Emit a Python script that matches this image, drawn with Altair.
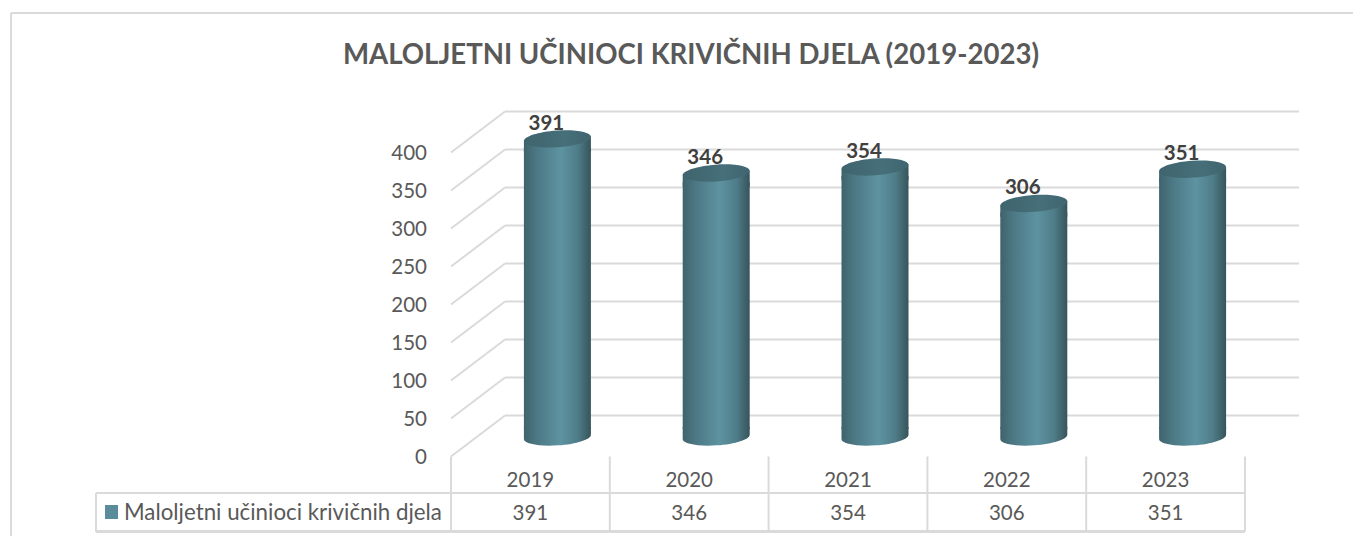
import altair as alt
import pandas as pd

years = ["2019", "2020", "2021", "2022", "2023"]
values = [391, 346, 354, 306, 351]
ticks = [0, 50, 100, 150, 200, 250, 300, 350, 400]
title_text = "MALOLJETNI UČINIOCI KRIVIČNIH DJELA (2019-2023)"
series_name = "Maloljetni učinioci krivičnih djela"

W, H = 1345, 528
FONT = "Lato"
GRID = "#DADADA"
TXT = "#595959"
XS = alt.Scale(domain=[-2.7897, 5.6801], nice=False, zero=False)
YS = alt.Scale(domain=[-104.6, 590.1], nice=False, zero=False)
X = lambda f: alt.X(f, type="quantitative", scale=XS, axis=None)
Y = lambda f: alt.Y(f, type="quantitative", scale=YS, axis=None)
HW = 33.5 / 158.8
DX, DY = 54, -41
NUM = 20.5

bars = pd.DataFrame({
    "year": years, "value": values,
    "pos": [i + 0.5 for i in range(len(years))],
    "x0": [i + 0.5 - HW for i in range(len(years))],
    "x1": [i + 0.5 + HW for i in range(len(years))],
    "base": [0] * len(years),
})
grid = pd.DataFrame({"v": ticks, "a": [0] * len(ticks), "b": [5] * len(ticks)})
cols = pd.DataFrame({"c": list(range(len(years) + 1))})

body_grad = alt.LinearGradient(gradient="linear", x1=0, y1=0, x2=1, y2=0, stops=[
    alt.GradientStop(offset=0, color="#3F636C"),
    alt.GradientStop(offset=0.18, color="#4B7783"),
    alt.GradientStop(offset=0.55, color="#5E93A1"),
    alt.GradientStop(offset=0.8, color="#4F7D89"),
    alt.GradientStop(offset=1, color="#37545B"),
])
top_grad = alt.LinearGradient(gradient="linear", x1=0, y1=0, x2=1, y2=0, stops=[
    alt.GradientStop(offset=0, color="#3F646E"),
    alt.GradientStop(offset=0.6, color="#466F79"),
    alt.GradientStop(offset=1, color="#406670"),
])
ELL = "M-1,0.07 A1,0.25 -4 1,1 1,-0.07 A1,0.25 -4 1,1 -1,0.07 Z"
BASE = "M-1,-0.3 L-1,0.07 A1,0.25 -4 0,0 1,-0.07 L1,-0.3 Z"
NECK = "M-1,0.07 L1,-0.07 L1,0.4 L-1,0.4 Z"
SIZE = 67 ** 2

back = alt.Chart(grid).mark_rule(color=GRID, strokeWidth=2, xOffset=DX, x2Offset=DX, yOffset=DY, y2Offset=DY).encode(
    x=X("a"), x2="b", y=Y("v"))
side = alt.Chart(grid).mark_rule(color=GRID, strokeWidth=2, x2Offset=DX, y2Offset=DY).encode(
    x=X("a"), x2="a", y=Y("v"), y2="v")
ylab = alt.Chart(grid).mark_text(font=FONT, fontSize=NUM, color=TXT, align="right", baseline="middle", xOffset=-24, yOffset=2).encode(
    x=X("a"), y=Y("v"), text="v:Q")

OX, OY = 27, -19.5
bottom = alt.Chart(bars).mark_point(filled=True, opacity=1, fill=body_grad, strokeWidth=0, shape=BASE, size=SIZE, xOffset=OX, yOffset=OY).encode(
    x=X("pos"), y=Y("base"))
body = alt.Chart(bars).mark_rect(fill=body_grad, xOffset=OX, x2Offset=OX, yOffset=OY + 8, y2Offset=OY - 8).encode(
    x=X("x0"), x2="x1", y=Y("value"), y2="base")
neck = alt.Chart(bars).mark_point(filled=True, opacity=1, fill=body_grad, strokeWidth=0, shape=NECK, size=SIZE, xOffset=OX, yOffset=OY - 1).encode(
    x=X("pos"), y=Y("value"))
top = alt.Chart(bars).mark_point(filled=True, opacity=1, fill=top_grad, strokeWidth=0, shape=ELL, size=SIZE, xOffset=OX, yOffset=OY - 1).encode(
    x=X("pos"), y=Y("value"))
vlab = alt.Chart(bars).mark_text(font=FONT, fontSize=NUM, fontWeight="bold", color="#404040", xOffset=16, yOffset=OY - 16, baseline="middle").encode(
    x=X("pos"), y=Y("value"), text="value:Q")

cat = alt.Chart(bars).mark_text(font=FONT, fontSize=NUM, color=TXT, baseline="middle").encode(
    x=X("pos"), y=alt.value(472.5), text="year:N")
row = alt.Chart(bars).mark_text(font=FONT, fontSize=NUM, color=TXT, baseline="middle").encode(
    x=X("pos"), y=alt.value(505.5), text="value:Q")
vlines = alt.Chart(cols).mark_rule(color=GRID, strokeWidth=2).encode(
    x=X("c"), y=alt.value(448.5), y2=alt.value(523.5))
hline1 = alt.Chart(cols).mark_rule(color=GRID, strokeWidth=2).encode(
    x=alt.value(88), x2=alt.value(1237), y=alt.value(485))
hline2 = alt.Chart(cols).mark_rule(color=GRID, strokeWidth=2).encode(
    x=alt.value(88), x2=alt.value(1237), y=alt.value(523.5))
vleft = alt.Chart(cols).mark_rule(color=GRID, strokeWidth=2).encode(
    x=alt.value(88), y=alt.value(485), y2=alt.value(523.5))
key = alt.Chart(cols).mark_rect(color="#5B8C9A").encode(
    x=alt.value(97), x2=alt.value(110), y=alt.value(497), y2=alt.value(511))
sname = alt.Chart(pd.DataFrame({"t": [series_name]})).mark_text(font=FONT, fontSize=22.3, color=TXT, align="left", baseline="middle").encode(
    x=alt.value(116), y=alt.value(505), text="t:N")
title = alt.Chart(pd.DataFrame({"t": [title_text]})).mark_text(font=FONT, fontSize=27.6, fontWeight="bold", color=TXT, baseline="middle").encode(
    x=alt.value(683), y=alt.value(48), text="t:N")
frame_top = alt.Chart(cols).mark_rule(color=GRID, strokeWidth=2).encode(
    x=alt.value(3), x2=alt.value(1345), y=alt.value(5))
frame_left = alt.Chart(cols).mark_rule(color=GRID, strokeWidth=2).encode(
    x=alt.value(3), y=alt.value(5), y2=alt.value(528))

chart = alt.layer(frame_top, frame_left, title, back, side, ylab, bottom, body, neck, top, vlab,
                  vlines, hline1, hline2, vleft, key, sname, cat, row).properties(
    width=W, height=H, padding=0, autosize=alt.AutoSizeParams(type="none"),
    background="white").configure_view(stroke=None)

chart.save("out.html", embed_options={"renderer": "svg", "actions": False})
